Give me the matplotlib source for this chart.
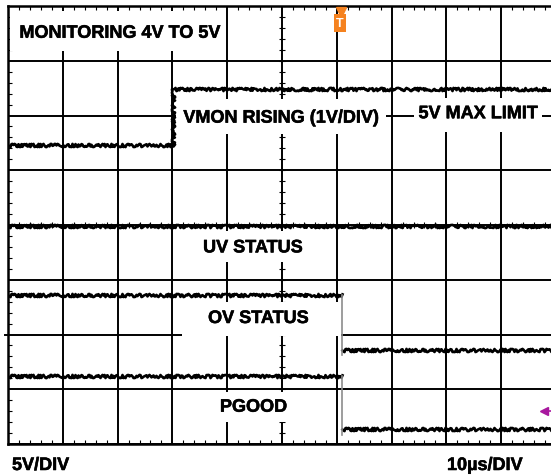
import numpy as np
import matplotlib.pyplot as plt
import matplotlib.patheffects as pe
from matplotlib.patches import Rectangle

plt.rcParams['font.family'] = ['Liberation Sans', 'DejaVu Sans']

# time axis in us (10us/DIV), levels in screen divisions (0 = bottom line)
vmon_t = [0, 30.1, 30.1, 100]
vmon_div = [5.46, 5.46, 6.48, 6.48]
uv_t = [0, 100]
uv_div = [3.99, 3.99]
status_edge_us = 60.9
ov_levels = [2.73, 1.72]        # before / after edge
pgood_levels = [1.25, 0.27]
trigger_us = 60.6
ch_marker_us = 97.9
ch_marker_div = 0.60

labels = ['MONITORING 4V TO 5V', 'VMON RISING (1V/DIV)', '5V MAX LIMIT',
          'UV STATUS', 'OV STATUS', 'PGOOD']
label_x = [20.4, 49.8, 85.8, 44.7, 45.7, 44.8]
label_y = [7.42, 5.87, 5.95, 3.50, 2.21, 0.59]
# white boxes behind labels: x0, x1, y0, y1
label_box = [(0.36, 39.8, 7.18, 7.91), (30.7, 69.0, 5.66, 6.30),
             (74.1, 97.4, 5.70, 6.32), (33.2, 56.0, 3.32, 3.89),
             (31.8, 60.8, 1.97, 2.59), (35.9, 53.3, 0.40, 0.95)]

W, H = 551, 477
bold = [pe.withStroke(linewidth=0.4, foreground='black')]

fig = plt.figure(figsize=(W / 100, H / 100), dpi=100)
ax = fig.add_axes([8 / W, (H - 445) / H, 548 / W, 438 / H])
ax.set_xlim(0, 100)
ax.set_ylim(0, 8)

# graticule
ax.set_xticks(np.arange(0, 101, 10))
ax.set_yticks(np.arange(0, 9, 1))
ax.set_xticks(np.arange(0, 100.1, 2), minor=True)
ax.set_yticks(np.arange(0, 8.01, 0.2), minor=True)
ax.grid(which='major', color='black', lw=1.4, zorder=1)
ax.tick_params(which='major', length=0, labelbottom=False, labelleft=False)
ax.tick_params(which='minor', direction='in', length=3, width=0.8,
               top=True, bottom=True, left=True, right=False)
ax.set_axisbelow(True)
for s in ax.spines.values():
    s.set_linewidth(1.8)

# center cross ticks
ax.plot(np.full(41, 50.0), np.arange(0, 8.01, 0.2), ls='none', marker='_',
        ms=4, mew=0.8, color='black', zorder=2)
ax.plot(np.arange(0, 100.1, 2), np.full(51, 4.0), ls='none', marker='|',
        ms=4, mew=0.8, color='black', zorder=2)

# label backgrounds
for x0, x1, y0, y1 in label_box:
    ax.add_patch(Rectangle((x0, y0), x1 - x0, y1 - y0, facecolor='white',
                           edgecolor='none', zorder=3))
for txt, x, y in zip(labels, label_x, label_y):
    ax.text(x, y, txt, ha='center', va='baseline', fontsize=13,
            fontweight='bold', zorder=5, path_effects=bold)


def trace(t, v):
    ln, = ax.plot(t, v, color='black', lw=1.9, zorder=4)
    ln.set_sketch_params(scale=1.6, length=2.0, randomness=5)


trace(vmon_t, vmon_div)
trace(uv_t, uv_div)
for lv in (ov_levels, pgood_levels):
    trace([0, status_edge_us], [lv[0], lv[0]])
    trace([status_edge_us, 100], [lv[1], lv[1]])
    ax.plot([status_edge_us, status_edge_us], [lv[0], lv[1] - 0.1],
            color='#8c8c8c', lw=1.2, zorder=4)

# trigger marker
orange = '#f5821f'
ax.plot([trigger_us + 0.2], [7.89], marker='v', ms=7, color=orange,
        mec=orange, clip_on=False, zorder=6)
ax.add_patch(Rectangle((trigger_us - 1.05, 7.53), 2.1, 0.33, facecolor=orange,
                       edgecolor='none', zorder=6))
ax.text(trigger_us, 7.69, 'T', ha='center', va='center', color='white',
        fontsize=9, fontweight='bold', zorder=7)

# channel markers
ax.plot([ch_marker_us], [ch_marker_div], marker='<', ms=6, color='#a8179e',
        zorder=6)
ax.plot([ch_marker_us, 100], [ch_marker_div, ch_marker_div], color='#a8179e',
        lw=1.2, zorder=6)
ax.plot([-0.55, 0], [2, 2], color='black', lw=1.4, clip_on=False)

fig.text(12 / W, (H - 471) / H, '5V/DIV', fontsize=13, fontweight='bold',
         va='baseline', path_effects=bold)
fig.text(447 / W, (H - 471) / H, '10µs/DIV', fontsize=13, fontweight='bold',
         va='baseline', path_effects=bold)

fig.savefig('out.png', dpi=100)
